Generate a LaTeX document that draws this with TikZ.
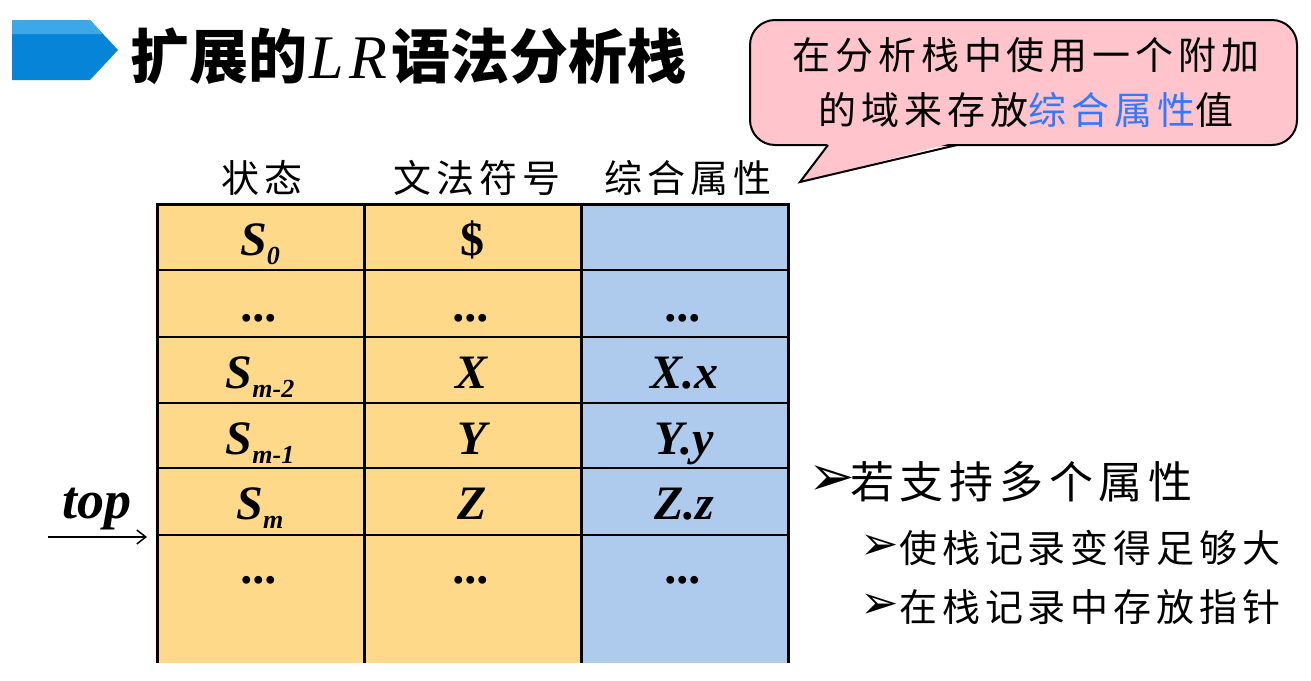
\documentclass[tikz,border=0pt]{standalone}
\usepackage{fontspec}
\setmainfont{Liberation Serif}
\newfontfamily\cjk{Noto Sans CJK SC}
\newfontfamily\cjks{Noto Sans CJK SC}[LetterSpace=13]
\newfontfamily\dv{DejaVu Sans}
\usetikzlibrary{arrows.meta}
\definecolor{cellorange}{RGB}{254,217,138}
\definecolor{cellblue}{RGB}{174,203,238}
\definecolor{notepink}{RGB}{255,196,204}
\definecolor{noteblue}{RGB}{51,120,255}
\definecolor{tagblue}{RGB}{6,132,216}
\definecolor{taglight}{RGB}{60,168,232}
\newcommand\subx[1]{\raisebox{-0.2em}{\fontsize{26}{26}\selectfont #1}}
\tikzset{
  celltext/.style={anchor=base, inner sep=0pt, font=\fontsize{48}{50}\selectfont\bfseries\itshape},
  headtext/.style={inner sep=0pt, font=\fontsize{38}{44}\selectfont\cjks},
  notetext/.style={inner sep=0pt, font=\fontsize{38}{44}\selectfont\cjks},
  bulletmain/.style={inner sep=0pt, anchor=west, font=\fontsize{44}{50}\selectfont\cjks},
  bulletsub/.style={inner sep=0pt, anchor=west, font=\fontsize{38}{44}\selectfont\cjks},
  bulletmark/.style={inner sep=0pt, anchor=west, font=\dv},
  outer/.style={line width=3pt},
  inner/.style={line width=2.2pt},
}
\begin{document}
\begin{tikzpicture}[x=1pt,y=-1pt]
\useasboundingbox (0,0) rectangle (1311,680);
% title tag
\fill[tagblue] (12,20) -- (90,20) -- (118,50) -- (90,80) -- (12,80) -- cycle;
\fill[taglight] (12,20) -- (90,20) -- (103,34) -- (12,34) -- cycle;
\node[anchor=west, inner sep=0pt] (title) at (130,56)
  {\fontsize{59}{62}\selectfont\cjk\bfseries 扩展的{\rmfamily\mdseries\itshape\fontsize{62}{62}\selectfont\kern2pt L\kern6pt R\kern4pt}语法分析栈};
% callout
\node[draw, line width=2pt, fill=notepink, rounded corners=25pt, minimum width=547pt, minimum height=125pt, inner sep=0pt] (note) at (1023.5,82.5) {};
\fill[notepink] (829,142) -- (799,183) -- (956,142) -- cycle;
\coordinate (tailL) at (828,145);
\coordinate (tailR) at (957,145);
\coordinate (tailTip) at (800,182);
\draw[line width=2pt, line join=miter] (tailL) -- (tailTip) -- (tailR);
\node[notetext] (note1) at (1026,55) {在分析栈中使用一个附加};
\node[notetext] (note2) at (1026,110) {的域来存放\textcolor{noteblue}{综合属性}值};
% headers
\node[headtext] (h1) at (262,178) {状态};
\node[headtext] (h2) at (477,178) {文法符号};
\node[headtext] (h3) at (688,178) {综合属性};
% table fills
\fill[cellorange] (157,204) rectangle (581,663);
\fill[cellblue] (581,204) rectangle (788,663);
% horizontal lines
\foreach \y in {270,337,403,468,535} \draw[inner] (157,\y) -- (788,\y);
\draw[outer] (155.5,204) -- (789.5,204);
% vertical lines
\foreach \x in {157,364,581,788} \draw[outer] (\x,204) -- (\x,663);
% cells
\node[celltext] (s0) at (260,255) {S\subx{0}};
\node[celltext, font=\fontsize{48}{50}\selectfont\bfseries] (d0) at (472,255) {\$};
\node[celltext] (s1) at (260,321) {...};
\node[celltext] (d1) at (472,321) {...};
\node[celltext] (a1) at (684,321) {...};
\node[celltext] (s2) at (260,388) {S\subx{m-2}};
\node[celltext] (d2) at (472,388) {X};
\node[celltext] (a2) at (684,388) {X.x};
\node[celltext] (s3) at (260,454) {S\subx{m-1}};
\node[celltext] (d3) at (472,454) {Y};
\node[celltext] (a3) at (684,454) {Y.y};
\node[celltext] (s4) at (260,519) {S\subx{m}};
\node[celltext] (d4) at (472,519) {Z};
\node[celltext] (a4) at (684,519) {Z.z};
\node[celltext] (s5) at (260,583) {...};
\node[celltext] (d5) at (472,583) {...};
\node[celltext] (a5) at (684,583) {...};
% top pointer
\node[anchor=base, inner sep=0pt, font=\fontsize{54}{56}\selectfont\bfseries\itshape] (top) at (97,518) {top};
\coordinate (ptrStart) at (48,537);
\coordinate (ptrEnd) at (147,537);
\draw[line width=1.5pt, -{Straight Barb[length=9pt,width=14pt]}] (ptrStart) -- (ptrEnd);
% bullets
\node[bulletmark, font=\dv\fontsize{56}{58}\selectfont] (b1) at (808,481) {➢};
\node[bulletmain] (t1) at (850,482) {若支持多个属性};
\node[bulletmark, font=\dv\fontsize{46}{48}\selectfont] (b2) at (860,547) {➢};
\node[bulletsub] (t2) at (899,548) {使栈记录变得足够大};
\node[bulletmark, font=\dv\fontsize{46}{48}\selectfont] (b3) at (860,606) {➢};
\node[bulletsub] (t3) at (899,607) {在栈记录中存放指针};
\end{tikzpicture}
\end{document}
